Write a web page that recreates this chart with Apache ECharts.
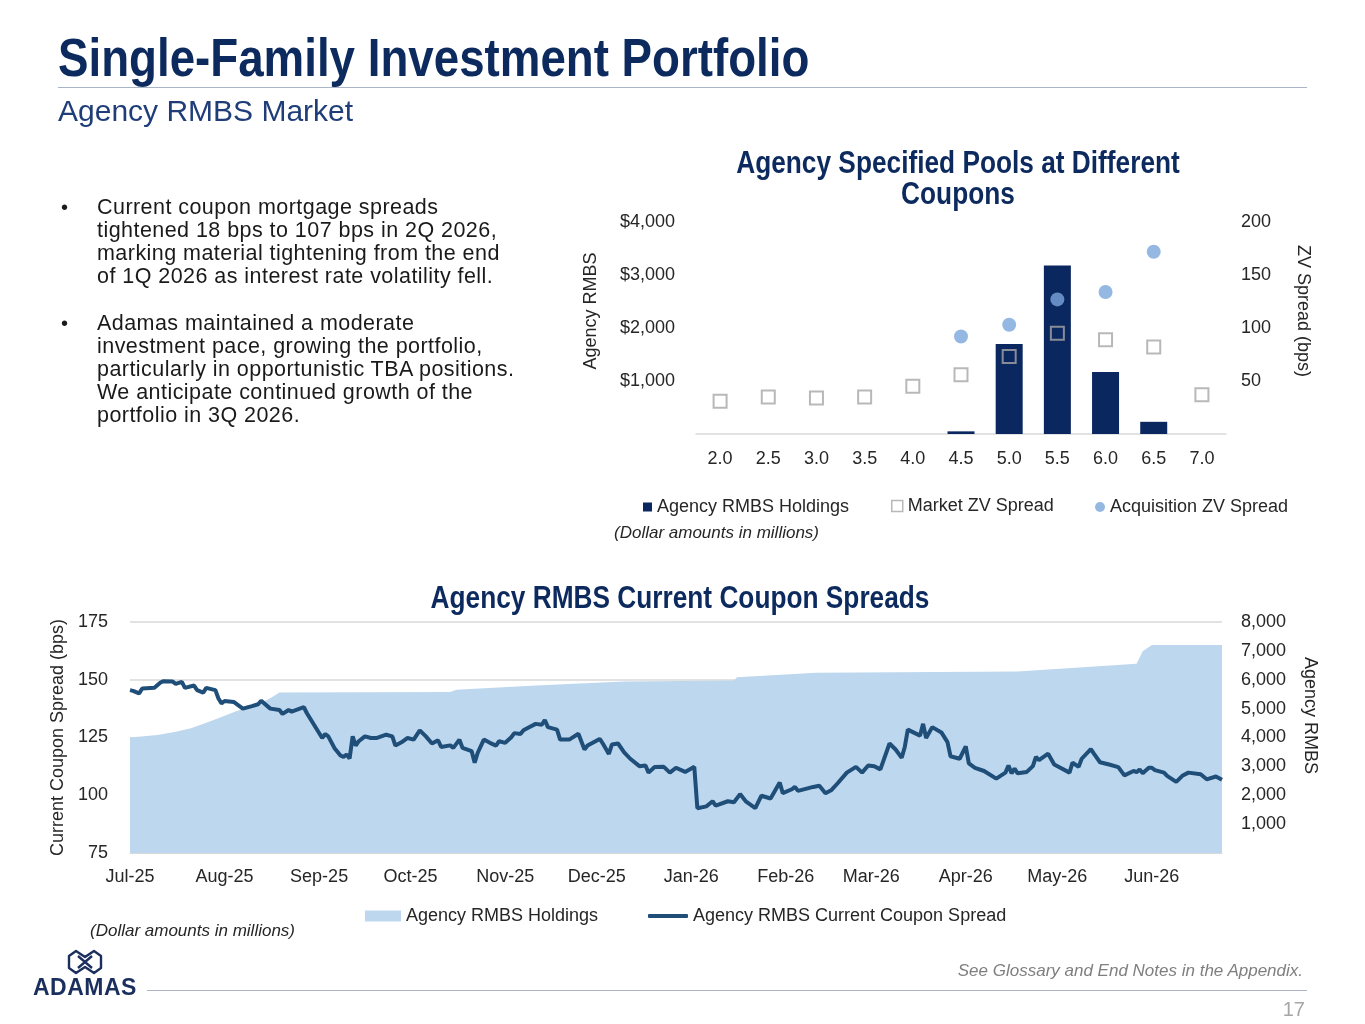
<!DOCTYPE html>
<html>
<head>
<meta charset="utf-8">
<title>Single-Family Investment Portfolio</title>
<script src="https://cdn.jsdelivr.net/npm/echarts@6/dist/echarts.min.js"></script>
<style>
  html, body { margin: 0; padding: 0; background: #fff; }
  body { width: 1365px; height: 1024px; position: relative; overflow: hidden; font-family: "Liberation Sans", Arial, sans-serif; }
  #chart { position: absolute; left: 0; top: 0; width: 1365px; height: 1024px; z-index: 0; }
  .t { position: absolute; white-space: nowrap; z-index: 1; }
  .title { left: 58px; top: 31px; font-size: 53px; line-height: 53px; font-weight: bold; color: #0c2a5e; transform: scaleX(0.862); transform-origin: left top; }
  .rule { position: absolute; height: 1px; background: #a9b5c7; z-index: 1; }
  .sub { left: 58px; top: 96px; font-size: 30px; line-height: 30px; color: #1f3d78; }
  .bul { left: 97px; font-size: 21.5px; line-height: 23px; letter-spacing: 0.45px; color: #1a1a1a; }
  .dot { left: 61px; font-size: 20px; line-height: 23px; color: #1a1a1a; }
  .note { font-size: 17px; line-height: 17px; font-style: italic; color: #262626; }
  .foot { font-size: 17px; line-height: 17px; font-style: italic; color: #7f7f7f; }
  .page { font-size: 20px; line-height: 20px; color: #a6a6a6; }
  .logo { left: 33px; top: 976px; font-size: 23px; line-height: 23px; font-weight: bold; color: #1b2f5e; letter-spacing: 0.5px; }
</style>
</head>
<body>
<div id="chart"></div>

<div class="t title">Single-Family Investment Portfolio</div>
<div class="rule" style="left:58px; top:87px; width:1249px;"></div>
<div class="t sub">Agency RMBS Market</div>

<div class="t dot" style="top:196px;">•</div>
<div class="t bul" style="top:196px;">Current coupon mortgage spreads<br>tightened 18 bps to 107 bps in 2Q 2026,<br>marking material tightening from the end<br>of 1Q 2026 as interest rate volatility fell.</div>
<div class="t dot" style="top:312px;">•</div>
<div class="t bul" style="top:312px;">Adamas maintained a moderate<br>investment pace, growing the portfolio,<br>particularly in opportunistic TBA positions.<br>We anticipate continued growth of the<br>portfolio in 3Q 2026.</div>

<div class="t note" style="left:614px; top:524px;">(Dollar amounts in millions)</div>
<div class="t note" style="left:90px; top:922px;">(Dollar amounts in millions)</div>

<svg class="t" style="left:66px; top:948px;" width="38" height="28" viewBox="0 0 38 28">
  <path d="M10 3 L19 9 L28 3 L35 8 L35 20 L28 25 L19 19 L10 25 L3 20 L3 8 Z" fill="none" stroke="#1b2f5e" stroke-width="2.4" stroke-linejoin="round"/>
  <path d="M12 8 L19 14 L26 8 M12 20 L19 14 L26 20" fill="none" stroke="#1b2f5e" stroke-width="2.4" stroke-linejoin="round"/>
</svg>
<div class="t logo">ADAMAS</div>
<div class="rule" style="left:147px; top:990px; width:1160px;"></div>
<div class="t foot" style="right:62px; top:962px;">See Glossary and End Notes in the Appendix.</div>
<div class="t page" style="right:60px; top:999px;">17</div>

<script>
// ---- top chart: specified pools by coupon ----
var coupons = ['2.0', '2.5', '3.0', '3.5', '4.0', '4.5', '5.0', '5.5', '6.0', '6.5', '7.0'];
var holdingsByCoupon = [null, null, null, null, null, 50, 1700, 3180, 1170, 230, null];
var marketZV = [31, 35, 34, 35, 45, 56, 73, 95, 89, 82, 37];
var acquisitionZV = [null, null, null, null, null, 92, 103, 127, 134, 172, null];

// ---- bottom chart: current coupon spread vs holdings ----
var spreadDates = [
  '2025-07-01', '2025-07-02', '2025-07-04', '2025-07-05', '2025-07-09', '2025-07-11', '2025-07-12', '2025-07-15', '2025-07-16',
  '2025-07-18', '2025-07-19', '2025-07-22', '2025-07-23', '2025-07-25', '2025-07-26', '2025-07-29', '2025-07-30', '2025-07-31',
  '2025-08-01', '2025-08-04', '2025-08-07', '2025-08-10', '2025-08-12', '2025-08-13', '2025-08-16', '2025-08-19', '2025-08-20',
  '2025-08-22', '2025-08-23', '2025-08-27', '2025-08-28',
  '2025-09-02', '2025-09-03', '2025-09-04', '2025-09-06', '2025-09-08', '2025-09-09', '2025-09-10', '2025-09-11', '2025-09-12',
  '2025-09-13', '2025-09-14', '2025-09-16', '2025-09-18', '2025-09-20', '2025-09-23', '2025-09-25', '2025-09-26', '2025-09-28', '2025-09-30',
  '2025-10-02', '2025-10-04', '2025-10-06', '2025-10-08', '2025-10-10', '2025-10-11', '2025-10-14', '2025-10-15', '2025-10-17',
  '2025-10-18', '2025-10-21', '2025-10-22', '2025-10-23', '2025-10-25', '2025-10-27', '2025-10-29', '2025-10-30',
  '2025-11-01', '2025-11-03', '2025-11-04', '2025-11-06', '2025-11-07', '2025-11-09', '2025-11-11', '2025-11-13', '2025-11-14',
  '2025-11-15', '2025-11-18', '2025-11-19', '2025-11-22', '2025-11-25', '2025-11-27', '2025-11-28',
  '2025-12-02', '2025-12-03', '2025-12-05', '2025-12-06', '2025-12-08', '2025-12-10', '2025-12-12', '2025-12-15', '2025-12-17',
  '2025-12-18', '2025-12-20', '2025-12-23', '2025-12-25', '2025-12-27', '2025-12-30',
  '2026-01-02', '2026-01-03', '2026-01-06', '2026-01-08', '2026-01-09', '2026-01-13', '2026-01-15', '2026-01-17', '2026-01-19',
  '2026-01-22', '2026-01-24', '2026-01-27', '2026-01-30', '2026-01-31',
  '2026-02-03', '2026-02-04', '2026-02-05', '2026-02-10', '2026-02-12', '2026-02-14', '2026-02-16', '2026-02-18', '2026-02-21',
  '2026-02-24', '2026-02-26', '2026-02-28',
  '2026-03-02', '2026-03-04', '2026-03-07', '2026-03-09', '2026-03-11', '2026-03-12', '2026-03-13', '2026-03-17', '2026-03-18',
  '2026-03-19', '2026-03-21', '2026-03-24', '2026-03-26', '2026-03-27', '2026-03-30',
  '2026-04-01', '2026-04-02', '2026-04-04', '2026-04-07', '2026-04-11', '2026-04-14', '2026-04-15', '2026-04-16', '2026-04-17',
  '2026-04-18', '2026-04-21', '2026-04-23', '2026-04-24', '2026-04-25', '2026-04-28', '2026-04-30',
  '2026-05-02', '2026-05-05', '2026-05-06', '2026-05-08', '2026-05-09', '2026-05-12', '2026-05-13', '2026-05-15', '2026-05-18',
  '2026-05-21', '2026-05-23', '2026-05-26', '2026-05-27', '2026-05-28', '2026-05-29', '2026-05-31',
  '2026-06-01', '2026-06-02', '2026-06-05', '2026-06-06', '2026-06-09', '2026-06-11', '2026-06-13', '2026-06-17', '2026-06-19',
  '2026-06-22', '2026-06-24'
];
var spreadValues = [
  145.5, 145.2, 144.1, 146.2, 146.5, 148.8, 149.4, 149.2, 148.2, 149.1, 146.5, 147.5, 145.5, 144.4, 146.5, 145.5, 141.9, 139.8,
  140.8, 140.4, 137.5, 138.6, 139.4, 140.9, 137.5, 136.9, 135.2, 136.9, 136.2, 138.1, 135.5,
  124.8, 126.5, 125.5, 120.5, 117.2, 116.6, 117.6, 115.9, 125.5, 121.5, 123.4, 125.5, 124.8, 124.8, 126.2, 125.5, 121.5, 122.9, 124.8,
  124.1, 128.1, 125.5, 122.4, 123.8, 120.9, 121.6, 120.5, 124.1, 120.5, 119.1, 114.1, 118.4, 124.1, 122.7, 121.5, 123.4,
  122.7, 125.1, 126.9, 126.5, 128.1, 129.5, 130.9, 130.5, 132.6, 129.5, 128.4, 124.1, 124.1, 126.6, 119.8, 121.5,
  124.4, 122.4, 117.9, 122.0, 122.4, 118.6, 115.8, 112.6, 112.9, 109.8, 112.2, 112.3, 109.8, 111.9, 110.1,
  112.3, 94.4, 95.2, 97.4, 95.5, 97.4, 97.0, 100.5, 97.2, 94.4, 99.8, 98.6, 105.5, 100.9,
  102.6, 103.6, 101.9, 103.6, 104.1, 100.9, 102.3, 105.2, 109.8, 112.3, 109.8, 112.9,
  112.6, 111.2, 122.4, 119.8, 116.2, 120.9, 128.4, 125.8, 130.9, 124.8, 129.5, 127.2, 123.0, 116.9, 115.8,
  121.2, 113.8, 111.9, 110.5, 107.2, 109.8, 112.9, 109.5, 111.5, 109.5, 110.1, 112.6, 116.6, 115.2, 118.0, 113.3,
  111.9, 109.8, 114.1, 112.3, 115.8, 120.0, 118.0, 114.3, 113.3, 112.2, 108.6, 110.5, 110.0, 111.2, 109.5, 111.9,
  111.9, 110.9, 109.8, 108.4, 105.8, 108.4, 109.8, 109.1, 106.9, 108.1, 106.7
];
var holdingDates = [
  '2025-07-01', '2025-07-10', '2025-07-16', '2025-07-21', '2025-07-26', '2025-07-31', '2025-08-05', '2025-08-12', '2025-08-16',
  '2025-08-19', '2025-10-14', '2025-10-16', '2025-11-11', '2025-12-10', '2026-01-15', '2026-01-16', '2026-02-11', '2026-04-18',
  '2026-05-27', '2026-05-29', '2026-06-01', '2026-06-24'
];
var holdingValues = [
  4000, 4090, 4200, 4320, 4510, 4710, 4920, 5150, 5360,
  5560, 5580, 5650, 5800, 5940, 5970, 6090, 6240, 6290,
  6550, 6990, 7200, 7200
];
var spreadTicks = [75, 175, 25];
var holdingTicks = [0, 8000, 1000];
var monthNames = ['Jan', 'Feb', 'Mar', 'Apr', 'May', 'Jun', 'Jul', 'Aug', 'Sep', 'Oct', 'Nov', 'Dec'];

var FONT = 'Liberation Sans';
var NAVY = '#0c2a5e';
var DAY = 24 * 3600 * 1000;

function pairs(dates, values) {
  return dates.map(function (d, i) { return [d, values[i]]; });
}
function commas(v) {
  return String(v).replace(/\B(?=(\d{3})+(?!\d))/g, ',');
}
// chart headings: bold face squeezed horizontally to look like a condensed bold
function heading(text, x, y) {
  return {
    type: 'text', x: x, y: y, scaleX: 0.847, silent: true,
    style: {
      text: text, fill: NAVY, font: 'bold 31px "Liberation Sans"', lineHeight: 31,
      textAlign: 'center', textVerticalAlign: 'middle'
    }
  };
}

var labelStyle = { fontFamily: FONT, fontSize: 18, color: '#262626' };
var nameStyle = { fontFamily: FONT, fontSize: 18, color: '#262626' };

var chart = echarts.init(document.getElementById('chart'), null, { renderer: 'canvas' });
chart.setOption({
  animation: false,
  graphic: [
    heading('Agency Specified Pools at Different', 958, 164),
    heading('Coupons', 958, 195),
    heading('Agency RMBS Current Coupon Spreads', 680, 599)
  ],
  legend: [
    { left: 643, top: 498, padding: 0, itemWidth: 9, itemHeight: 9, textStyle: labelStyle,
      data: [{ name: 'Agency RMBS Holdings', icon: 'rect' }] },
    { left: 891, top: 497, padding: 0, itemWidth: 11, itemHeight: 11, textStyle: labelStyle,
      data: [{ name: 'Market ZV Spread', icon: 'rect', itemStyle: { color: '#fff', borderColor: '#a6a6a6', borderWidth: 1.5 } }] },
    { left: 1095, top: 498, padding: 0, itemWidth: 10, itemHeight: 10, textStyle: labelStyle,
      data: [{ name: 'Acquisition ZV Spread', icon: 'circle' }] },
    { left: 365, top: 907, padding: 0, itemWidth: 36, itemHeight: 11, textStyle: labelStyle,
      data: [{ name: 'Agency RMBS Holdings', icon: 'rect', itemStyle: { color: '#bdd7ee' } }] },
    { left: 648, top: 907, padding: 0, itemWidth: 40, itemHeight: 4, textStyle: labelStyle,
      data: [{ name: 'Agency RMBS Current Coupon Spread', icon: 'roundRect', itemStyle: { color: '#1f4e79' } }] }
  ],
  grid: [
    { left: 696, top: 222, width: 530, height: 212 },
    { left: 130, top: 622, width: 1092, height: 231 }
  ],
  xAxis: [{
    gridIndex: 0, type: 'category', data: coupons,
    axisLine: { lineStyle: { color: '#d9d9d9', width: 1.5 } },
    axisTick: { show: false },
    axisLabel: Object.assign({ margin: 16 }, labelStyle)
  }, {
    gridIndex: 1, type: 'time', min: '2025-07-01', max: '2026-06-24',
    splitNumber: 12, minInterval: 28 * DAY, maxInterval: 31 * DAY,
    axisLine: { lineStyle: { color: '#d9d9d9' } },
    axisTick: { show: false },
    splitLine: { show: false },
    axisLabel: Object.assign({
      margin: 15, showMaxLabel: false,
      formatter: function (v) {
        var d = new Date(v);
        if (d.getDate() !== 1) return '';
        return monthNames[d.getMonth()] + '-' + String(d.getFullYear()).slice(2);
      }
    }, labelStyle)
  }],
  yAxis: [{
    gridIndex: 0, type: 'value', min: 0, max: 4000, interval: 1000,
    splitLine: { show: false }, axisLine: { show: false }, axisTick: { show: false },
    axisLabel: Object.assign({ margin: 21, showMinLabel: false,
      formatter: function (v) { return '$' + commas(v); } }, labelStyle),
    name: 'Agency RMBS', nameLocation: 'middle', nameGap: 96,
    nameTextStyle: Object.assign({ padding: [0, 0, 0, 34] }, nameStyle)
  }, {
    gridIndex: 0, type: 'value', position: 'right', min: 0, max: 200, interval: 50,
    splitLine: { show: false }, axisLine: { show: false }, axisTick: { show: false },
    axisLabel: Object.assign({ margin: 15, showMinLabel: false }, labelStyle),
    name: 'ZV Spread (bps)', nameLocation: 'middle', nameGap: 68, nameRotate: -90,
    nameTextStyle: Object.assign({ padding: [0, 34, 0, 0] }, nameStyle)
  }, {
    gridIndex: 1, type: 'value', min: spreadTicks[0], max: spreadTicks[1], interval: spreadTicks[2],
    splitLine: { lineStyle: { color: '#d9d9d9', width: 1.5 } }, axisLine: { show: false }, axisTick: { show: false },
    axisLabel: Object.assign({ margin: 22 }, labelStyle),
    name: 'Current Coupon Spread (bps)', nameLocation: 'middle', nameGap: 59,
    nameTextStyle: nameStyle
  }, {
    gridIndex: 1, type: 'value', position: 'right', min: holdingTicks[0], max: holdingTicks[1], interval: holdingTicks[2],
    splitLine: { show: false }, axisLine: { show: false }, axisTick: { show: false },
    axisLabel: Object.assign({ margin: 19, showMinLabel: false, formatter: commas }, labelStyle),
    name: 'Agency RMBS', nameLocation: 'middle', nameGap: 79, nameRotate: -90,
    nameTextStyle: Object.assign({ padding: [0, 44, 0, 0] }, nameStyle)
  }],
  series: [{
    name: 'Agency RMBS Holdings', type: 'bar', xAxisIndex: 0, yAxisIndex: 0,
    data: holdingsByCoupon, barWidth: 27,
    itemStyle: { color: '#0b2760' }
  }, {
    name: 'Market ZV Spread', type: 'scatter', xAxisIndex: 0, yAxisIndex: 1,
    data: marketZV, symbol: 'rect', symbolSize: 13,
    itemStyle: { color: 'rgba(255,255,255,0)', borderColor: '#a6a6a6', borderWidth: 2 }
  }, {
    name: 'Acquisition ZV Spread', type: 'scatter', xAxisIndex: 0, yAxisIndex: 1,
    data: acquisitionZV, symbol: 'circle', symbolSize: 14,
    itemStyle: { color: '#7ba6dc' }
  }, {
    name: 'Agency RMBS Holdings', type: 'line', xAxisIndex: 1, yAxisIndex: 3,
    data: pairs(holdingDates, holdingValues), symbol: 'none',
    lineStyle: { width: 0 }, itemStyle: { color: '#bdd7ee' },
    areaStyle: { color: '#bdd7ee', opacity: 1 }
  }, {
    name: 'Agency RMBS Current Coupon Spread', type: 'line', xAxisIndex: 1, yAxisIndex: 2,
    data: pairs(spreadDates, spreadValues), symbol: 'none',
    lineStyle: { color: '#1f4e79', width: 4 }, itemStyle: { color: '#1f4e79' }
  }]
});
</script>
</body>
</html>
